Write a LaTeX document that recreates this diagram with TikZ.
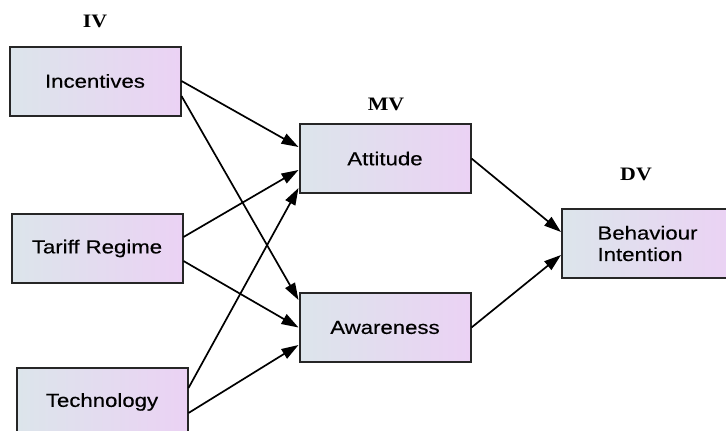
\documentclass[tikz,border=0pt]{standalone}
\usepackage{fontspec}
\setmainfont{Liberation Sans}[FakeStretch=1.18,FakeBold=0.4]
\newfontfamily\labfont{Liberation Serif}[FakeStretch=1.15]
\usetikzlibrary{arrows.meta,calc}
\definecolor{boxL}{HTML}{DCE5EB}
\definecolor{boxR}{HTML}{EBD2F4}
\definecolor{edge}{HTML}{262626}
\tikzset{
  varbox/.style={draw=edge, line width=2pt, left color=boxL, right color=boxR,
    minimum width=171pt, minimum height=69pt, inner sep=0pt,
    font=\fontsize{18.8}{21.5}\selectfont, text=black},
  grp/.style={font=\labfont\bfseries\fontsize{19}{20}\selectfont, text=black},
  link/.style={draw=black, line width=1.7pt, -{Triangle[length=17pt,width=11pt]}}
}
\begin{document}
\begin{tikzpicture}[x=1pt,y=-1pt]
\useasboundingbox (0,0) rectangle (726,431);
% group labels
\node[grp] (iv) at (95,21) {IV};
\node[grp] (mv) at (386,104) {MV};
\node[grp] (dv) at (636,174) {DV};
% boxes
\node[varbox] (inc) at (95,81) {Incentives};
\node[varbox] (tar) at (97,248.5) {Tariff Regime};
\node[varbox] (tec) at (102,402) {Technology};
\node[varbox] (att) at (385,158.5) {Attitude};
\node[varbox] (awa) at (385,327.5) {Awareness};
\node[varbox, align=left] (bi) at (647.5,243.5) {Behaviour\\Intention};
% connectors
\draw[link] (inc.east) -- ($(att.west)+(0,-11.5)$);
\draw[link] ($(inc.east)+(0,15)$) -- ($(awa.west)+(0,-27.5)$);
\draw[link] ($(tar.east)+(0,-11.5)$) -- ($(att.west)+(0,11.5)$);
\draw[link] ($(tar.east)+(0,12.5)$) -- (awa.west);
\draw[link] ($(tec.east)+(0,-14)$) -- ($(att.west)+(0,29.5)$);
\draw[link] ($(tec.east)+(0,11)$) -- ($(awa.west)+(0,17.5)$);
\draw[link] (att.east) -- ($(bi.west)+(0,-11.5)$);
\draw[link] (awa.east) -- ($(bi.west)+(0,11.5)$);
\end{tikzpicture}
\end{document}
